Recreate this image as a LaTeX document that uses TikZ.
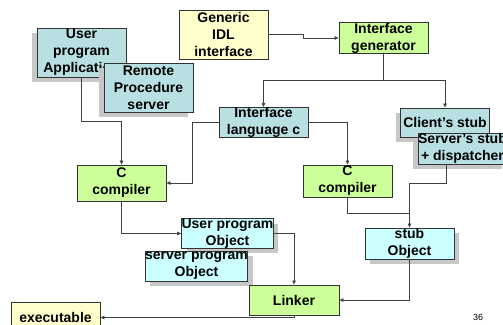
\documentclass[tikz,border=0pt]{standalone}
\usepackage{fontspec}
\setmainfont{Liberation Sans}
\usetikzlibrary{arrows.meta,shadows}
\definecolor{boxteal}{HTML}{B8E0E3}
\definecolor{boxgreen}{HTML}{CCFF99}
\definecolor{boxyellow}{HTML}{FFFFCC}
\definecolor{boxcyan}{HTML}{CCFFFF}
\begin{document}
\begin{tikzpicture}[x=1pt, y=-1pt,
    blok/.style={draw=black!80, line width=0.9pt, minimum width=89pt, inner sep=0pt,
        align=center, font=\bfseries\fontsize{14}{17}\selectfont},
    schaduwL/.style={drop shadow={shadow xshift=-5pt, shadow yshift=-5pt, fill=black!22, opacity=1}},
    schaduwR/.style={drop shadow={shadow xshift=5pt, shadow yshift=-5pt, fill=black!22, opacity=1}},
    lijn/.style={draw=black!75, line width=0.6pt},
    pijl/.style={lijn, -{Triangle[length=4pt,width=3.5pt]}}]
                \useasboundingbox (0,0) rectangle (503,324);
                \clip (0,0) rectangle (503,324);

                \node[blok, schaduwL, fill=boxteal, minimum height=49pt] (usrapp) at (81.5,52.5) {User\\program\\Application};
                \node[blok, schaduwL, fill=boxteal, minimum height=49pt] (rpserver) at (148.5,87.5) {Remote\\Procedure\\server};
                \node[blok, fill=boxyellow, minimum height=49pt] (idl) at (223.5,34.5) {Generic\\IDL\\interface};
                \node[blok, fill=boxgreen, minimum height=30pt] (igen) at (383.5,38) {Interface\\generator};
                \node[blok, fill=boxteal, minimum height=29pt] (ilang) at (263.5,122.5) {Interface\\language c};
                \node[blok, schaduwL, fill=boxteal, minimum height=29pt] (cstub) at (445,122.5) {Client’s stub};
                \node[blok, schaduwL, fill=boxteal, minimum height=31pt] (sstub) at (462.5,148.5) {Server’s stub\\+ dispatcher};
                \node[blok, fill=boxgreen, minimum height=36pt] (ccompA) at (121.5,183) {C\\compiler};
                \node[blok, fill=boxgreen, minimum height=32pt] (ccompB) at (347.5,181) {C\\compiler};
                \node[blok, schaduwR, fill=boxcyan, minimum height=29pt] (uobj) at (227.5,233.5) {User program\\Object};
                \node[blok, schaduwR, fill=boxcyan, minimum height=30pt] (sobj) at (196.5,266) {server program\\Object};
                \node[blok, schaduwR, fill=boxcyan, minimum height=31pt] (stubobj) at (409.5,243.5) {stub\\Object};
                \node[blok, fill=boxgreen, minimum width=90pt, minimum height=30pt] (linker) at (294,300) {Linker};
                \node[blok, fill=boxyellow, minimum height=30pt] (exe) at (55.5,317.5) {executable};
                \node[font=\fontsize{9}{10}\selectfont] (paginanr) at (478,317) {36};
                \coordinate (knik) at (409.5,213);

                % verbindingen
                \draw[pijl] (idl.east) -- ++(35,0) |- (igen.west);
                \draw[pijl] (igen.south) -- ++(0,27) -| (ilang.north);
                \draw[pijl] (igen.south) -- ++(0,27) -| (cstub.north);
                \draw[pijl] (usrapp.south) -- ++(0,44) -| (ccompA.north);
                \draw[pijl] (ilang.west) -- ++(-26,0) |- (ccompA.east);
                \draw[pijl] (ilang.east) -| (ccompB.north);
                \draw[lijn] (ccompB.south) |- (knik);
                \draw[lijn] ([xshift=-16.5pt]sstub.south) -- ++(0,19) -| (knik);
                \draw[pijl] (knik) -- (stubobj.north);
                \draw[pijl] (ccompA.south) |- (uobj.west);
                \draw[pijl] (uobj.east) -| (linker.north);
                \draw[pijl] (stubobj.south) |- (linker.east);
                \draw[pijl] (linker.south) |- (exe.east);
                \end{tikzpicture}
\end{document}
